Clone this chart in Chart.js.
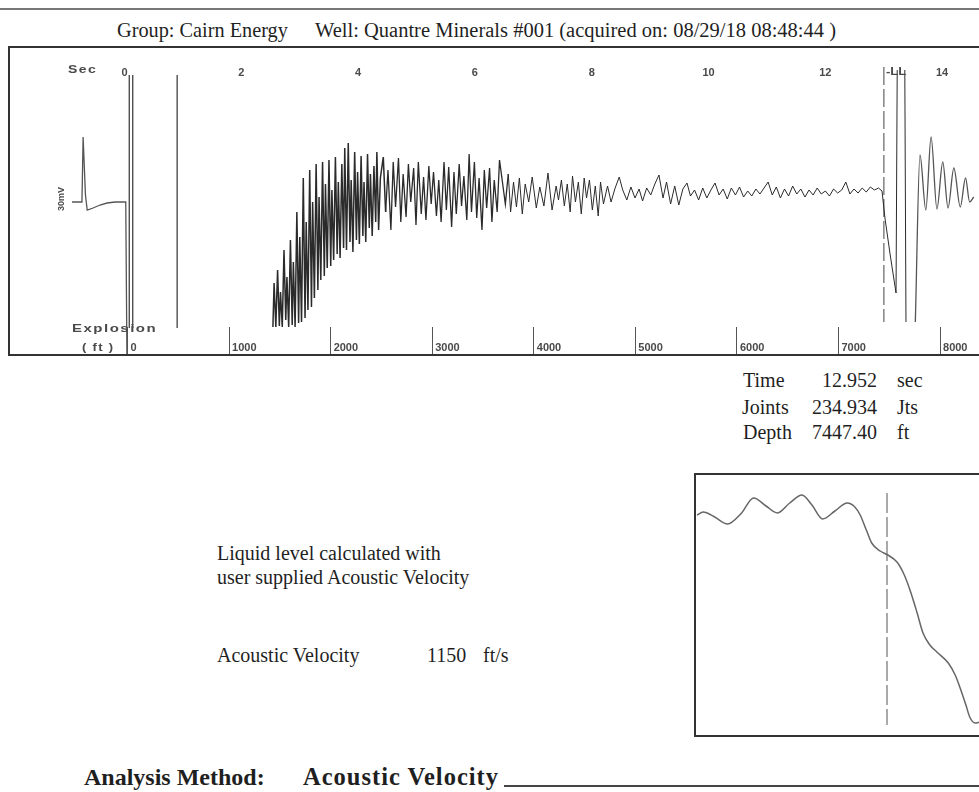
<!DOCTYPE html>
<html>
<head>
<meta charset="utf-8">
<script src="https://cdn.jsdelivr.net/npm/chart.js@4.4.1/dist/chart.umd.min.js"></script>
<style>
  body { margin: 0; width: 979px; height: 792px; overflow: hidden; background: #fff; position: relative;
         font-family: "Liberation Serif", "Times New Roman", serif; color: #1f1f1f; }
  .abs { position: absolute; white-space: nowrap; }
  .tag { font-family: "Liberation Sans", Arial, sans-serif; font-weight: bold; color: #4a4a4a;
         transform-origin: left center; }
  #rule { left: 0; top: 8px; width: 979px; border-top: 2px solid #777; }
  #traceBox { left: 8px; top: 46px; width: 1000px; height: 306px; border: 2px solid #333; }
  #traceCanvas { position: absolute; left: 10px; top: 48px; }
  #zoomBox { left: 694px; top: 473px; width: 400px; height: 260px; border: 2px solid #333; }
  #zoomCanvas { position: absolute; left: 696px; top: 475px; }
  .row { font-size: 20px; line-height: 24px; }
  .val { width: 77px; text-align: right; }
</style>
</head>
<body>
<div id="rule" class="abs"></div>
<div class="abs" style="left:117px;top:19px;font-size:20.3px;line-height:22px">Group: Cairn Energy</div>
<div class="abs" style="left:315px;top:19px;font-size:20.5px;line-height:22px">Well: Quantre Minerals #001 (acquired on: 08/29/18 08:48:44 )</div>

<div id="traceBox" class="abs"></div>
<canvas id="traceCanvas" width="969" height="306"></canvas>
<div class="abs tag" style="left:68px;top:64px;font-size:10px;letter-spacing:1px;transform:scaleX(1.4)">Sec</div>
<div class="abs tag" style="left:82px;top:342px;font-size:10px;letter-spacing:1px;transform:scaleX(1.3)">( ft )</div>
<div class="abs tag" style="left:72px;top:323px;font-size:10px;letter-spacing:1px;transform:scaleX(1.5)">Explosion</div>
<div class="abs tag" style="left:44px;top:194px;width:34px;text-align:center;font-size:9px;transform:rotate(-90deg);transform-origin:center">30mV</div>
<div class="abs tag" style="left:886px;top:66px;font-size:10px;transform:scaleX(1.3)">-LL</div>

<div class="abs row" style="left:743px;top:368px">Time</div>
<div class="abs row val" style="left:800px;top:368px">12.952</div>
<div class="abs row" style="left:897px;top:368px">sec</div>
<div class="abs row" style="left:742px;top:395px">Joints</div>
<div class="abs row val" style="left:800px;top:395px">234.934</div>
<div class="abs row" style="left:897px;top:395px">Jts</div>
<div class="abs row" style="left:743px;top:420px">Depth</div>
<div class="abs row val" style="left:800px;top:420px">7447.40</div>
<div class="abs row" style="left:897px;top:420px">ft</div>

<div class="abs row" style="left:217px;top:541px">Liquid level calculated with</div>
<div class="abs row" style="left:217px;top:565px">user supplied Acoustic Velocity</div>
<div class="abs row" style="left:217px;top:643px">Acoustic Velocity</div>
<div class="abs row" style="left:427px;top:643px">1150</div>
<div class="abs row" style="left:483px;top:643px">ft/s</div>

<div id="zoomBox" class="abs"></div>
<canvas id="zoomCanvas" width="283" height="260"></canvas>

<div class="abs" style="left:84px;top:763px;font-size:24px;line-height:28px;font-weight:bold">Analysis Method:</div>
<div class="abs" style="left:303px;top:763px;font-size:24.5px;line-height:28px;font-weight:bold;letter-spacing:1px">Acoustic Velocity</div>
<div class="abs" style="left:504px;top:785px;width:480px;border-top:2px solid #444"></div>

<script>
// Shot parameters
const acousticVelocity = 1150;   // ft/s, user supplied
const liquidLevelSec = 12.952;   // picked liquid level echo

// Axis ticks
const secTicks = [0, 2, 4, 6, 8, 10, 12, 14];
const depthTicks = [0, 1000, 2000, 3000, 4000, 5000, 6000, 7000, 8000];

// Explosion pulse shown left of time zero
const pulseSec = [-0.95, -0.78, -0.76, -0.72, -0.69, -0.59, -0.47, -0.35, -0.21, -0.03, -0.01];
const pulseAmp = [-10, -10, 55, -3, -18, -16, -13, -11, -10, -10, -163];

// Shot saturation right after firing (trace leaves the recording window)
const blastSec = [0.03, 0.03, 0.06, 0.09, 0.09, 0.47, 0.85, 0.85];
const blastAmp = [-136, 117, null, 117, -136, null, -136, 117];

// Collar / coupling reflections, 2.5 - 6.4 s
const rampSec = [2.49, 2.51, 2.54, 2.57, 2.60, 2.62, 2.65, 2.68, 2.71, 2.73,
  2.76, 2.79, 2.82, 2.84, 2.87, 2.90, 2.93, 2.95, 2.98, 3.01,
  3.04, 3.06, 3.09, 3.12, 3.15, 3.17, 3.20, 3.23, 3.26, 3.28,
  3.31, 3.34, 3.37, 3.39, 3.42, 3.45, 3.48, 3.50, 3.53, 3.56,
  3.59, 3.61, 3.64, 3.67, 3.70, 3.72, 3.75, 3.78, 3.81, 3.83,
  3.86, 3.89, 3.92, 3.94, 3.97, 4.00, 4.03, 4.05, 4.08, 4.11,
  4.14, 4.16, 4.19, 4.22, 4.25, 4.27, 4.30, 4.33,
  4.38, 4.42, 4.46, 4.51, 4.55, 4.59, 4.64, 4.68, 4.72, 4.77, 4.81, 4.85, 4.90, 4.94, 4.98, 5.03, 5.07,
  5.11, 5.16, 5.20, 5.24, 5.29, 5.33, 5.37, 5.42, 5.46, 5.50, 5.55, 5.59, 5.63, 5.68, 5.72, 5.76, 5.81,
  5.85, 5.89, 5.94, 5.98, 6.02, 6.07, 6.11, 6.15, 6.20, 6.24, 6.28, 6.33, 6.37];
const rampAmp = [-135, -91, -135, -78, -134, -100, -135, -58, -128, -85,
  -135, -48, -133, -70, -135, -20, -131, -45, -130, 14,
  -126, -30, -118, 22, -115, -10, -106, 28, -98, -5,
  -88, 30, -84, 8, -76, 32, -74, 2, -68, 35,
  -62, 10, -66, 28, -56, 44, -58, 49, -50, 12,
  -60, 40, -48, 20, -52, 36, -44, 10, -50, 38,
  -36, 18, -44, 26, -30, 40, -38, 14,
  35, -20, 22, -38, 30, -15, 34, -30, 18, -25, 28, -10, 24, -33, 30, -22, 15,
  -28, 26, -12, 20, -24, 12, -30, 30, -18, 25, -35, 20, -22, 28, -14, 16, -28,
  38, -20, 30, -26, 14, -38, 22, -16, 24, -30, 12, -20, 32];

// Quieter tubing noise, 6.5 - 12.9 s
const noiseSec = [6.47, 6.52, 6.56, 6.61, 6.66, 6.71, 6.76, 6.81, 6.87, 6.93, 7.00, 7.06, 7.13, 7.20,
  7.27, 7.34, 7.38, 7.43, 7.48, 7.53, 7.58, 7.62, 7.67, 7.72, 7.77, 7.82, 7.86, 7.91, 7.96, 8.01, 8.06,
  8.10, 8.15,
  8.22, 8.28, 8.35, 8.42, 8.48, 8.55, 8.62, 8.69, 8.76, 8.82, 8.89, 8.96, 9.03, 9.10, 9.17, 9.23, 9.30,
  9.37, 9.44, 9.51, 9.58, 9.64, 9.71, 9.78, 9.85, 9.92, 9.99, 10.06, 10.13, 10.20, 10.27, 10.34, 10.41,
  10.48, 10.55, 10.62, 10.69, 10.76, 10.83, 10.90, 10.97, 11.04, 11.11, 11.18, 11.25, 11.32, 11.39,
  11.46, 11.53, 11.60, 11.67, 11.74, 11.81, 11.88, 11.95, 12.02, 12.09, 12.16, 12.23, 12.30, 12.37,
  12.44, 12.51, 12.58, 12.65, 12.72, 12.79, 12.86];
const noiseAmp = [-12, 18, -20, 10, -15, 14, -22, 8, -10, 15, -16, 5, -14, 19,
  -18, 6, -8, 12, -14, 8, -20, 16, -10, 10, -22, 14, -6, 12, -18, 6, -24,
  10, -12,
  6, -10, 4, 15, 2, -8, 5, -6, 3, -9, 4, -3, 8, 17, -6, 10, -12,
  6, -13, 3, 9, -4, 2, -8, 4, -6, 2, 9, -3, 3, -7, 4, -3,
  5, -5, 1, -4, 3, -2, 4, 10, -3, 5, -6, 3, -4, 6,
  -2, 3, -5, 2, -3, 4, -2, 1, -4, 3, -1, 2, 10, -2,
  3, -1, 4, 0, 5, 2, 4];

// Liquid level kick (clipped at the window edges)
const echoSec = [12.92, 12.94, 12.97, 13.06, 13.16, 13.18, 13.25, 13.31, 13.33];
const echoAmp = [1, -10, -26, -63, -101, 122, null, 122, -130];

// Ringing after the echo
const ringSec = [13.49, 13.57, 13.67, 13.76, 13.86, 13.96, 14.05, 14.15, 14.26, 14.35, 14.42, 14.49];
const ringAmp = [-130, 37, -18, 55, -17, 30, -16, 24, -15, 14, -10, -5];

// Expanded view around the liquid level
const zoomSec = [12.704, 12.712, 12.727, 12.744, 12.761, 12.778, 12.794, 12.809, 12.825, 12.841, 12.854,
  12.868, 12.884, 12.900, 12.910, 12.917, 12.925, 12.932, 12.943, 12.953, 12.965, 12.974, 12.982,
  12.991, 12.999, 13.008, 13.017, 13.032, 13.041, 13.047, 13.055, 13.060, 13.067, 13.073];
const zoomAmp = [-5, -2, -7, -14, -4, 12, 4, -3, 7, 15, 5,
  -9, -1, 7, 3, -5, -20, -33, -41, -45, -52, -64, -80,
  -102, -123, -135, -142, -153, -165, -177, -195, -207, -213, -212];

function series(sec, amp) {
  return sec.map((t, i) => ({ x: t, y: amp[i] }));
}

// plot window: 58.4 px per second, zero at 117.5 px
const secMin = -117.5 / 58.4;
const secMax = (969 - 117.5) / 58.4;
const ftPerSec = acousticVelocity / 2;

const tickFont = { family: '"Liberation Sans", Arial, sans-serif', size: 11, weight: 'bold' };

// axes take no room; labels sit inside the frame
const flatAxis = s => { s.height = 0; };

new Chart(document.getElementById('traceCanvas'), {
  type: 'line',
  data: {
    datasets: [
      { data: series(pulseSec, pulseAmp), borderColor: '#555', borderWidth: 1.3 },
      { data: series(blastSec, blastAmp), borderColor: '#333', borderWidth: 1.2 },
      { data: series(rampSec.concat(noiseSec, echoSec), rampAmp.concat(noiseAmp, echoAmp)),
        borderColor: '#2b2b2b', borderWidth: 1,
        segment: { borderWidth: c => c.p0.parsed.x < 4.4 ? 1.5 : (c.p0.parsed.x < 6.5 ? 1.3 : 1) } },
      { data: series(ringSec, ringAmp), borderColor: '#555', borderWidth: 1.3, cubicInterpolationMode: 'monotone' },
      { data: series([liquidLevelSec, liquidLevelSec], [125, -130]), borderColor: '#444', borderWidth: 1,
        borderDash: [18, 4] }
    ]
  },
  options: {
    responsive: false,
    animation: false,
    devicePixelRatio: 1,
    spanGaps: false,
    layout: { padding: 0 },
    elements: { point: { radius: 0 }, line: { tension: 0 } },
    plugins: { legend: { display: false }, tooltip: { enabled: false } },
    scales: {
      x: {
        type: 'linear', position: 'top', min: secMin, max: secMax,
        afterBuildTicks: s => { s.ticks = secTicks.map(v => ({ value: v })); },
        afterFit: flatAxis,
        grid: { display: false },
        border: { display: false },
        ticks: { mirror: true, autoSkip: false, maxRotation: 0, minRotation: 0, padding: 18, labelOffset: -3,
                 font: tickFont, color: '#4a4a4a' }
      },
      depth: {
        axis: 'x', type: 'linear', position: 'bottom', min: secMin * ftPerSec, max: secMax * ftPerSec,
        afterBuildTicks: s => { s.ticks = depthTicks.map(v => ({ value: v })); },
        afterFit: flatAxis,
        grid: { display: true, drawOnChartArea: false, drawTicks: true, tickLength: -27, color: '#555' },
        border: { display: false },
        ticks: { mirror: true, autoSkip: false, maxRotation: 0, minRotation: 0, align: 'start', padding: -1,
                 labelOffset: 3, font: tickFont, color: '#4a4a4a', callback: v => String(v) }
      },
      y: { display: false, min: -162, max: 144 }
    }
  }
});

// expanded echo view: 766 px per second, liquid level at 191 px
const zoomMin = liquidLevelSec - 191 / 766;
const zoomMax = zoomMin + 283 / 766;

new Chart(document.getElementById('zoomCanvas'), {
  type: 'line',
  data: {
    datasets: [
      { data: series(zoomSec, zoomAmp), borderColor: '#666', borderWidth: 1.5, cubicInterpolationMode: 'monotone' },
      { data: series([liquidLevelSec, liquidLevelSec], [17, -215]), borderColor: '#555', borderWidth: 1,
        borderDash: [20, 4] }
    ]
  },
  options: {
    responsive: false,
    animation: false,
    devicePixelRatio: 1,
    layout: { padding: 0 },
    elements: { point: { radius: 0 } },
    plugins: { legend: { display: false }, tooltip: { enabled: false } },
    scales: {
      x: { type: 'linear', display: false, min: zoomMin, max: zoomMax },
      y: { display: false, min: -225, max: 35 }
    }
  }
});
</script>
</body>
</html>
